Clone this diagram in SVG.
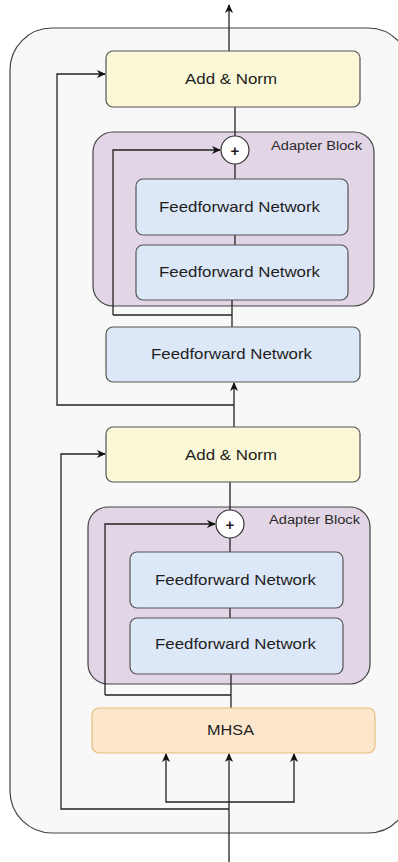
<svg xmlns="http://www.w3.org/2000/svg" width="398" height="862" viewBox="0 0 398 862">
<defs>
<marker id="ah" viewBox="0 0 10 10" refX="9" refY="5" markerWidth="10" markerHeight="9" markerUnits="userSpaceOnUse" orient="auto">
<path d="M0,0.5 L10,5 L0,9.5 L3,5 Z" fill="#111"/>
</marker>
<style>
.lbl{font-family:"Liberation Sans",Arial,sans-serif;font-size:15px;fill:#1e1e1e;text-anchor:middle;dominant-baseline:central}
.small{font-family:"Liberation Sans",Arial,sans-serif;font-size:12px;fill:#2a2a2a;text-anchor:end;dominant-baseline:central}
.yel{fill:#fbf8d7;stroke:#555;stroke-width:1.2}
.blu{fill:#dce7f7;stroke:#555;stroke-width:1.2}
.pur{fill:#e2d5e6;stroke:#444;stroke-width:1.2}
.ora{fill:#fce6cc;stroke:#e3c07e;stroke-width:1.2}
.ln{fill:none;stroke:#222;stroke-width:1.3}
.arr{fill:none;stroke:#222;stroke-width:1.3;marker-end:url(#ah)}
</style>
</defs>
<rect width="398" height="862" fill="#ffffff"/>
<g id="container">
<rect x="10" y="28" width="400" height="805" rx="42" fill="#f8f8f8" stroke="#444" stroke-width="1.2"/>
</g>
<g id="adapter1">
<rect class="pur" x="93" y="132" width="281" height="174" rx="20"/>
<text class="small" x="362" y="146" textLength="91" lengthAdjust="spacingAndGlyphs">Adapter Block</text>
</g>
<g id="adapter2">
<rect class="pur" x="88" y="507" width="282" height="177" rx="20"/>
<text class="small" x="360" y="520" textLength="91" lengthAdjust="spacingAndGlyphs">Adapter Block</text>
</g>
<g id="connectors">
<path class="arr" d="M229,51 L229,5"/>
<path class="ln" d="M235,107 L235,136"/>
<path class="ln" d="M235,164 L235,179"/>
<path class="ln" d="M235,235 L235,245"/>
<path class="ln" d="M232,300 L232,327"/>
<path class="arr" d="M113,315 L113,150 L220,150"/>
<path class="ln" d="M113,315 L232,315"/>
<path class="arr" d="M234,427 L234,383"/>
<path class="arr" d="M234,405 L57,405 L57,74 L105,74"/>
<path class="ln" d="M230,482 L230,510"/>
<path class="ln" d="M230,538 L230,552"/>
<path class="ln" d="M230,608 L230,618"/>
<path class="ln" d="M231,674 L231,708"/>
<path class="arr" d="M105,695 L105,524 L215,524"/>
<path class="ln" d="M105,695 L231,695"/>
<path class="arr" d="M229,862 L229,754"/>
<path class="arr" d="M229,802 L166,802 L166,754"/>
<path class="arr" d="M229,802 L294,802 L294,754"/>
<path class="arr" d="M229,809 L61,809 L61,454 L105,454"/>
</g>
<g id="addnorm1">
<rect class="yel" x="106" y="51" width="254" height="56" rx="7"/>
<text class="lbl" x="231" y="78" textLength="92" lengthAdjust="spacingAndGlyphs">Add &amp; Norm</text>
</g>
<g id="plus1">
<circle cx="235" cy="150" r="14" fill="#fff" stroke="#333" stroke-width="1.2"/>
<text class="lbl" x="235" y="150" font-size="13" font-weight="bold">+</text>
</g>
<g id="ffn1">
<rect class="blu" x="136" y="179" width="212" height="56" rx="7"/>
<text class="lbl" x="239.5" y="206" textLength="161" lengthAdjust="spacingAndGlyphs">Feedforward Network</text>
</g>
<g id="ffn2">
<rect class="blu" x="136" y="245" width="212" height="55" rx="7"/>
<text class="lbl" x="239.5" y="271" textLength="161" lengthAdjust="spacingAndGlyphs">Feedforward Network</text>
</g>
<g id="ffn3">
<rect class="blu" x="106" y="327" width="254" height="55" rx="7"/>
<text class="lbl" x="231.5" y="353" textLength="161" lengthAdjust="spacingAndGlyphs">Feedforward Network</text>
</g>
<g id="addnorm2">
<rect class="yel" x="106" y="427" width="254" height="55" rx="7"/>
<text class="lbl" x="231" y="454" textLength="92" lengthAdjust="spacingAndGlyphs">Add &amp; Norm</text>
</g>
<g id="plus2">
<circle cx="230" cy="524" r="14" fill="#fff" stroke="#333" stroke-width="1.2"/>
<text class="lbl" x="230" y="524" font-size="13" font-weight="bold">+</text>
</g>
<g id="ffn4">
<rect class="blu" x="130" y="552" width="213" height="56" rx="7"/>
<text class="lbl" x="235.5" y="579" textLength="161" lengthAdjust="spacingAndGlyphs">Feedforward Network</text>
</g>
<g id="ffn5">
<rect class="blu" x="130" y="618" width="213" height="56" rx="7"/>
<text class="lbl" x="235.5" y="643" textLength="161" lengthAdjust="spacingAndGlyphs">Feedforward Network</text>
</g>
<g id="mhsa">
<rect class="ora" x="92" y="708" width="283" height="45" rx="7"/>
<text class="lbl" x="230.5" y="729" textLength="47" lengthAdjust="spacingAndGlyphs">MHSA</text>
</g>
</svg>
